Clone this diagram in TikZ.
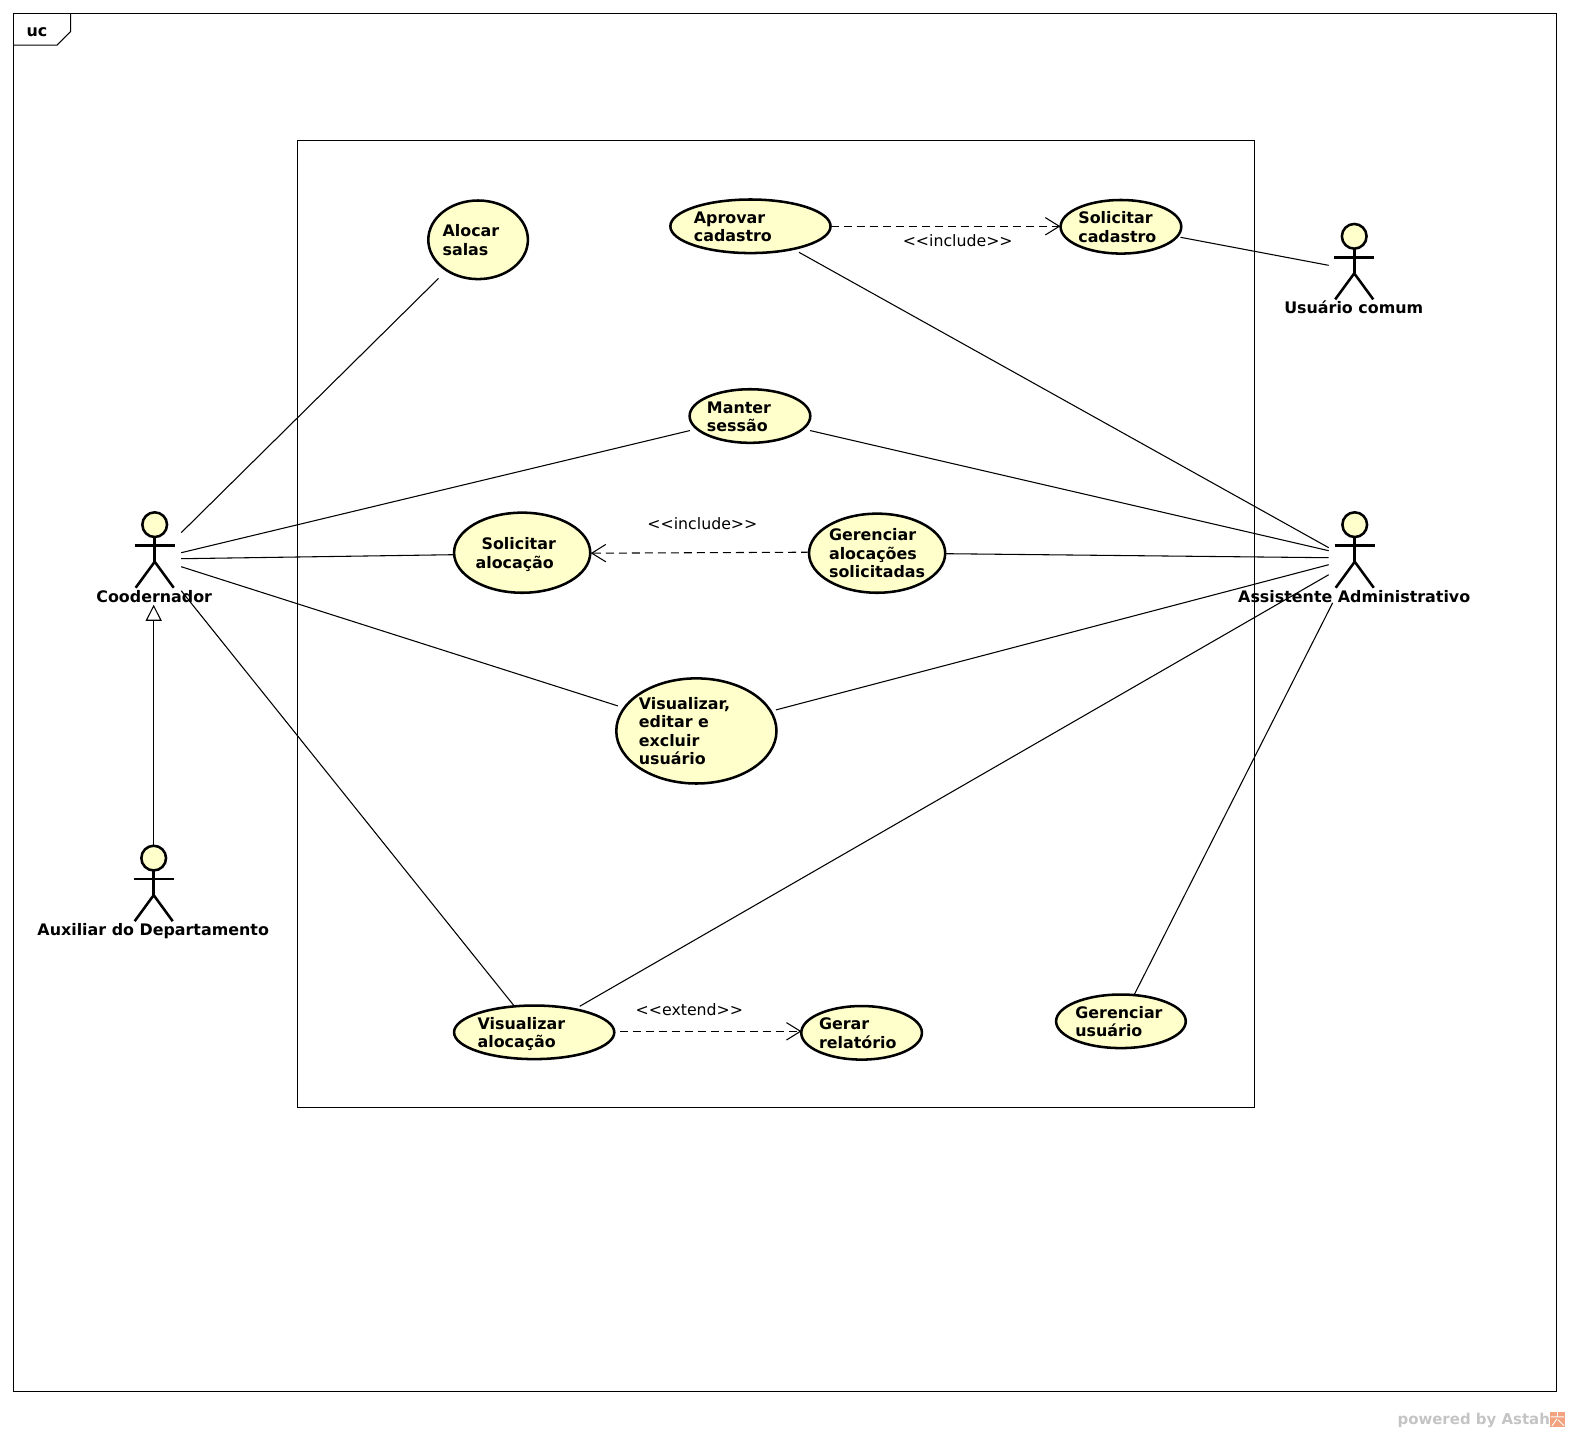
\documentclass[tikz,border=0pt]{standalone}
\usepackage{fontspec}
\setmainfont{DejaVu Sans}
\usetikzlibrary{shapes.geometric,arrows.meta}
\definecolor{ucfill}{HTML}{FFFFCC}
\definecolor{wmgray}{HTML}{C4C4C4}
\definecolor{wmorange}{HTML}{F2A27E}
\newcommand{\uctxt}[2]{\smash{\makebox[0pt][l]{\hspace{#1pt}\raisebox{-4.9pt}{\fontsize{11.9pt}{13.875pt}\selectfont\bfseries\begin{tabular}{@{}l@{}}#2\end{tabular}}}}}
\tikzset{
 ucase/.style 2 args={ellipse,draw=black,fill=ucfill,line width=1.9pt,inner sep=0pt,outer sep=0pt,minimum width=#1*0.75pt,minimum height=#2*0.75pt},
 assoc/.style={line width=0.8pt},
 incl/.style={line width=0.8pt,dash pattern=on 6pt off 3.75pt,-{Straight Barb[length=10.5pt,width=13pt]}},
 inherit/.style={line width=0.8pt,-{Triangle[open,length=12pt,width=12pt,fill=white]}},
 actorbox/.style={inner sep=0pt,outer sep=0pt,minimum width=39.75pt,minimum height=82.5pt},
 actorhead/.style={circle,draw=black,fill=ucfill,line width=1.9pt,inner sep=0pt,outer sep=0pt,minimum size=18.5pt},
 actorline/.style={line width=1.9pt},
 boldtxt/.style={font=\fontsize{11.9pt}{14pt}\selectfont\bfseries,inner sep=0pt},
 steretxt/.style={font=\fontsize{11.8pt}{14pt}\selectfont,inner sep=0pt}
}
\begin{document}
\begin{tikzpicture}[x=0.75pt,y=-0.75pt]
\useasboundingbox (0,0) rectangle (1568,1430);
\draw[line width=0.8pt] (13.5,13.5) rectangle (1554.5,1389.5);
\draw[line width=0.8pt] (13.5,45) -- (57,45) -- (70.5,31.5) -- (70.5,13.5);
\node[boldtxt,anchor=base] (frametag) at (37,36) {uc};
\draw[line width=0.8pt] (297,140.5) rectangle (1252.5,1106);

\node[ucase={99.5}{78.5}] (alocar) at (477.5,239.5) {\uctxt{-26.6}{Alocar\\salas}};
\node[ucase={160}{53.5}] (aprovar) at (749.5,226) {\uctxt{-42.4}{Aprovar\\cadastro}};
\node[ucase={120.5}{53.5}] (solcadastro) at (1119.5,226.5) {\uctxt{-31.9}{Solicitar\\cadastro}};
\node[ucase={120.5}{53.5}] (manter) at (749,415.5) {\uctxt{-32.2}{Manter\\sessão}};
\node[ucase={136}{80}] (solalocacao) at (521.5,552) {\uctxt{-34.9}{\hspace*{4.5pt}Solicitar\\alocação}};
\node[ucase={136}{79}] (geralocacoes) at (876,552.5) {\uctxt{-36}{Gerenciar\\alocações\\solicitadas}};
\node[ucase={160}{105}] (visualeditar) at (695.5,730) {\uctxt{-43.1}{Visualizar,\\editar e\\excluir\\usuário}};
\node[ucase={160}{53.5}] (visalocacao) at (533.5,1031) {\uctxt{-42.4}{Visualizar\\alocação}};
\node[ucase={120.5}{53.5}] (gerar) at (860.5,1031.5) {\uctxt{-31.9}{Gerar\\relatório}};
\node[ucase={129.5}{53.5}] (gerusuario) at (1119.5,1020) {\uctxt{-34.1}{Gerenciar\\usuário}};

\foreach \nm/\x/\y/\txt in {coodernador/154.5/549/Coodernador,assistente/1353/549/Assistente Administrativo,comum/1352.5/261/Usuário comum,auxiliar/153.5/882/Auxiliar do Departamento}
{
 \node[actorbox] (\nm) at (\x,\y) {};
 \draw[actorline] (\x,\y-12.5) -- (\x,\y+12);
 \draw[actorline] (\x-20,\y-4) -- (\x+20,\y-4);
 \draw[actorline] (\x-19,\y+38) -- (\x,\y+12) -- (\x+19,\y+38);
 \node[actorhead] (\nm-head) at (\x,\y-25) {};
 \node[boldtxt,anchor=base] (\nm-lbl) at (\x-0.5,\y+52.6) {\txt};
}

\draw[assoc] ([shift={(26.5,-17)}]coodernador.center) -- ([shift={(-39.5,38.5)}]alocar.center);
\draw[assoc] ([shift={(26.5,3)}]coodernador.center) -- ([shift={(-60,14.5)}]manter.center);
\draw[assoc] ([shift={(26.5,9)}]coodernador.center) -- ([shift={(-68.5,2)}]solalocacao.center);
\draw[assoc] ([shift={(26.5,17)}]coodernador.center) -- ([shift={(-78.5,-25)}]visualeditar.center);
\draw[assoc] ([shift={(26.5,41)}]coodernador.center) -- ([shift={(-20.5,-27)}]visalocacao.center);

\draw[assoc] ([shift={(48.5,26)}]aprovar.center) -- ([shift={(-26,-2)}]assistente.center);
\draw[assoc] ([shift={(60,14.5)}]manter.center) -- ([shift={(-26,1)}]assistente.center);
\draw[assoc] ([shift={(69,0.5)}]geralocacoes.center) -- ([shift={(-26,8)}]assistente.center);
\draw[assoc] ([shift={(79.5,-21)}]visualeditar.center) -- ([shift={(-26,15)}]assistente.center);
\draw[assoc] ([shift={(45.5,-26)}]visalocacao.center) -- ([shift={(-26,25)}]assistente.center);
\draw[assoc] ([shift={(13.5,-27)}]gerusuario.center) -- ([shift={(-22,53)}]assistente.center);
\draw[assoc] ([shift={(59.5,10.5)}]solcadastro.center) -- ([shift={(-25.5,4)}]comum.center);

\draw[incl] ([shift={(80,0)}]aprovar.center) -- ([shift={(-60.5,-0.5)}]solcadastro.center);
\draw[incl] ([shift={(-68,-1)}]geralocacoes.center) -- ([shift={(68.5,0.5)}]solalocacao.center);
\draw[incl] ([shift={(85.5,-1)}]visalocacao.center) -- ([shift={(-60,-1.5)}]gerar.center);
\draw[inherit] (auxiliar-head) -- (auxiliar-head |- coodernador.south);

\node[steretxt] (inclone) at (956.5,240) {<{}<include>{}>};
\node[steretxt] (incltwo) at (701.5,523) {<{}<include>{}>};
\node[steretxt] (extone) at (688.5,1008) {<{}<extend>{}>};

\node[font=\fontsize{11.2pt}{13pt}\selectfont\bfseries,text=wmgray,inner sep=0pt,anchor=base west] (wmark) at (1395.5,1422.5) {powered by Astah};
\fill[wmorange] (1548,1410) rectangle (1563,1425);
\draw[white,line width=0.7pt] (1555.5,1410) -- (1555.5,1415) (1549,1415) -- (1562,1415) (1550,1424) -- (1555,1417) (1556,1418) -- (1562,1424);
\end{tikzpicture}
\end{document}
